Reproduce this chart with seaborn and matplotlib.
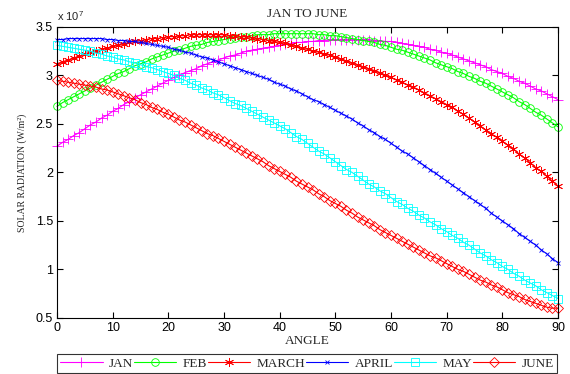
import matplotlib
matplotlib.use("Agg")
import matplotlib.pyplot as plt
import pandas as pd
import seaborn as sns
from matplotlib.ticker import FuncFormatter, MultipleLocator

# solar radiation, in units of 1e7 W/m^2, one value per degree 0..90
angle = list(range(0, 91))

jan = [2.27, 2.31, 2.34, 2.38, 2.41, 2.45, 2.49, 2.52, 2.56, 2.59,
       2.63, 2.66, 2.70, 2.73, 2.77, 2.80, 2.83, 2.86, 2.89, 2.92,
       2.95, 2.98, 3.00, 3.03, 3.05, 3.07, 3.10, 3.12, 3.14, 3.16,
       3.18, 3.20, 3.21, 3.23, 3.25, 3.26, 3.27, 3.28, 3.29, 3.30,
       3.31, 3.32, 3.33, 3.34, 3.34, 3.35, 3.35, 3.36, 3.36, 3.37,
       3.37, 3.37, 3.37, 3.37, 3.37, 3.37, 3.37, 3.36, 3.36, 3.35,
       3.35, 3.34, 3.33, 3.32, 3.31, 3.30, 3.29, 3.27, 3.26, 3.24,
       3.23, 3.21, 3.19, 3.17, 3.15, 3.13, 3.11, 3.09, 3.06, 3.04,
       3.02, 2.99, 2.97, 2.94, 2.92, 2.89, 2.86, 2.84, 2.81, 2.78,
       2.75]

feb = [2.68, 2.72, 2.75, 2.78, 2.81, 2.84, 2.87, 2.90, 2.93, 2.96,
       2.99, 3.02, 3.04, 3.07, 3.10, 3.12, 3.14, 3.17, 3.19, 3.21,
       3.23, 3.25, 3.26, 3.28, 3.30, 3.31, 3.32, 3.34, 3.35, 3.36,
       3.37, 3.38, 3.39, 3.40, 3.40, 3.41, 3.42, 3.42, 3.42, 3.43,
       3.43, 3.43, 3.43, 3.43, 3.43, 3.43, 3.43, 3.42, 3.42, 3.41,
       3.41, 3.40, 3.39, 3.38, 3.37, 3.36, 3.35, 3.34, 3.32, 3.31,
       3.29, 3.27, 3.26, 3.24, 3.22, 3.20, 3.18, 3.16, 3.13, 3.11,
       3.09, 3.07, 3.04, 3.02, 2.99, 2.97, 2.94, 2.92, 2.89, 2.86,
       2.83, 2.80, 2.77, 2.73, 2.70, 2.66, 2.62, 2.59, 2.55, 2.51,
       2.47]

march = [3.12, 3.14, 3.16, 3.18, 3.20, 3.22, 3.24, 3.25, 3.27, 3.28,
         3.30, 3.31, 3.32, 3.34, 3.35, 3.36, 3.37, 3.38, 3.38, 3.39,
         3.40, 3.40, 3.41, 3.41, 3.42, 3.42, 3.42, 3.42, 3.42, 3.42,
         3.42, 3.41, 3.41, 3.40, 3.40, 3.39, 3.38, 3.37, 3.36, 3.35,
         3.34, 3.33, 3.31, 3.30, 3.28, 3.27, 3.25, 3.24, 3.22, 3.21,
         3.19, 3.17, 3.15, 3.13, 3.11, 3.09, 3.07, 3.05, 3.03, 3.00,
         2.98, 2.95, 2.93, 2.90, 2.88, 2.85, 2.82, 2.79, 2.76, 2.73,
         2.70, 2.67, 2.63, 2.60, 2.56, 2.52, 2.48, 2.44, 2.40, 2.36,
         2.32, 2.28, 2.24, 2.19, 2.15, 2.10, 2.05, 2.01, 1.96, 1.91,
         1.86]

april = [3.37, 3.37, 3.38, 3.38, 3.38, 3.38, 3.38, 3.38, 3.38, 3.37,
         3.37, 3.36, 3.36, 3.35, 3.35, 3.34, 3.33, 3.32, 3.31, 3.30,
         3.29, 3.27, 3.26, 3.24, 3.23, 3.21, 3.19, 3.18, 3.16, 3.14,
         3.12, 3.10, 3.08, 3.06, 3.04, 3.02, 3.00, 2.98, 2.96, 2.93,
         2.91, 2.89, 2.86, 2.84, 2.81, 2.78, 2.75, 2.73, 2.70, 2.67,
         2.64, 2.61, 2.58, 2.55, 2.51, 2.48, 2.44, 2.41, 2.37, 2.34,
         2.30, 2.26, 2.22, 2.19, 2.15, 2.11, 2.07, 2.03, 1.99, 1.95,
         1.91, 1.87, 1.83, 1.79, 1.75, 1.71, 1.67, 1.63, 1.58, 1.54,
         1.50, 1.46, 1.42, 1.37, 1.33, 1.29, 1.25, 1.20, 1.16, 1.11,
         1.07]

may = [3.31, 3.30, 3.29, 3.28, 3.27, 3.26, 3.25, 3.23, 3.22, 3.20,
       3.19, 3.17, 3.16, 3.14, 3.13, 3.11, 3.09, 3.08, 3.06, 3.04,
       3.02, 3.00, 2.97, 2.95, 2.92, 2.90, 2.87, 2.85, 2.82, 2.80,
       2.77, 2.74, 2.71, 2.69, 2.66, 2.63, 2.60, 2.57, 2.54, 2.51,
       2.48, 2.45, 2.41, 2.37, 2.34, 2.30, 2.26, 2.22, 2.19, 2.15,
       2.11, 2.07, 2.03, 2.00, 1.96, 1.92, 1.88, 1.85, 1.81, 1.78,
       1.74, 1.70, 1.67, 1.63, 1.60, 1.56, 1.53, 1.49, 1.46, 1.42,
       1.39, 1.35, 1.32, 1.28, 1.25, 1.21, 1.17, 1.14, 1.10, 1.07,
       1.03, 1.00, 0.96, 0.93, 0.89, 0.86, 0.83, 0.79, 0.76, 0.73,
       0.70]

june = [2.95, 2.94, 2.93, 2.92, 2.91, 2.90, 2.89, 2.88, 2.86, 2.85,
        2.83, 2.81, 2.79, 2.77, 2.75, 2.72, 2.70, 2.67, 2.65, 2.62,
        2.60, 2.57, 2.54, 2.52, 2.49, 2.46, 2.43, 2.40, 2.38, 2.35,
        2.32, 2.29, 2.26, 2.23, 2.20, 2.17, 2.14, 2.11, 2.07, 2.04,
        2.01, 1.98, 1.95, 1.91, 1.88, 1.85, 1.82, 1.78, 1.75, 1.71,
        1.68, 1.65, 1.61, 1.58, 1.54, 1.51, 1.48, 1.45, 1.41, 1.38,
        1.35, 1.32, 1.29, 1.26, 1.23, 1.20, 1.17, 1.14, 1.12, 1.09,
        1.06, 1.03, 1.00, 0.98, 0.95, 0.92, 0.89, 0.87, 0.84, 0.82,
        0.79, 0.76, 0.74, 0.72, 0.69, 0.67, 0.65, 0.63, 0.61, 0.60,
        0.60]

months = ["JAN", "FEB", "MARCH", "APRIL", "MAY", "JUNE"]
series = [jan, feb, march, april, may, june]

colors = ["#ff00ff", "#00ff00", "#ff0000", "#0000ff", "#00ffff", "#ff0000"]
markers = ["+", "o", (6, 2, 0), "x", "s", "D"]
sizes = [7, 5.5, 6.5, 3.5, 6, 5]

sns.set_style("ticks")
plt.rcParams["font.family"] = ["Liberation Serif", "DejaVu Serif"]
plt.rcParams["mathtext.fontset"] = "custom"
plt.rcParams["mathtext.rm"] = "Liberation Sans"

fig, ax = plt.subplots(figsize=(5.7, 3.74), dpi=100)
fig.subplots_adjust(left=0.1, right=0.979, bottom=0.15, top=0.928)

for i in range(len(months)):
    df = pd.DataFrame({"Angle": angle, "Radiation": [v * 1e7 for v in series[i]]})
    sns.lineplot(
        x="Angle",
        y="Radiation",
        data=df,
        ax=ax,
        color=colors[i],
        marker=markers[i],
        markersize=sizes[i],
        markerfacecolor="none",
        markeredgecolor=colors[i],
        markeredgewidth=0.6,
        linewidth=0.8,
        label=months[i],
        clip_on=False,
    )

ax.set_xlim(0, 90)
ax.set_ylim(0.5e7, 3.5e7)
ax.xaxis.set_major_locator(MultipleLocator(10))
ax.yaxis.set_major_locator(MultipleLocator(0.5e7))
ax.yaxis.set_major_formatter(FuncFormatter(lambda v, p: f"{v / 1e7:g}"))

ax.tick_params(direction="in", length=4, width=0.8, top=True, right=True,
               labelsize=9, labelfontfamily="Liberation Sans", colors="black", pad=3)
for s in ax.spines.values():
    s.set_visible(True)
    s.set_linewidth(0.8)
    s.set_color("black")

ax.text(0.0, 1.012, "x 10$^{7}$", transform=ax.transAxes, fontsize=8,
        family="Liberation Sans", ha="left", va="bottom")

ax.set_title("JAN TO JUNE", fontsize=9.5, pad=7)
ax.set_xlabel("ANGLE", fontsize=9.5, labelpad=1)
ax.set_ylabel("SOLAR RADIATION (W/m²)", fontsize=7, labelpad=6)

handles, labels = ax.get_legend_handles_labels()
leg = ax.legend(
    handles=handles,
    labels=labels,
    loc="center",
    bbox_to_anchor=(0.1, 0.0, 0.877, 0.056),
    bbox_transform=fig.transFigure,
    mode="expand",
    ncol=6,
    fancybox=False,
    edgecolor="black",
    fontsize=9.5,
    handlelength=3.2,
    handletextpad=0.5,
    borderpad=0.25,
    columnspacing=0.5,
    borderaxespad=0,
)
leg.get_frame().set_linewidth(0.8)

plt.savefig("out.png", dpi=100)
